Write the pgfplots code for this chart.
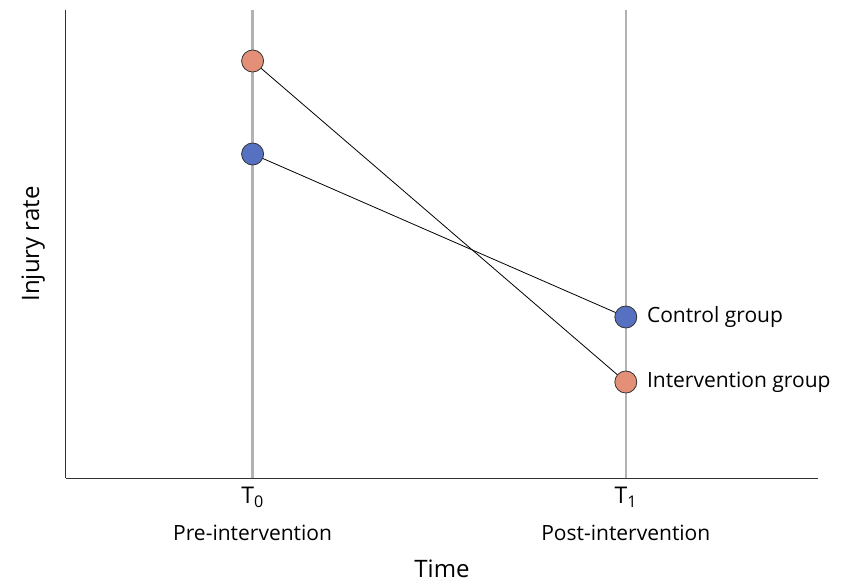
\documentclass[border=0pt]{standalone}
\usepackage{pgfplots}
\pgfplotsset{compat=1.18}
\usepackage{fontspec}
\setmainfont{Open Sans}
\definecolor{orng}{HTML}{E48F78}
\definecolor{blu}{HTML}{5671C2}
\begin{document}
\fontsize{21}{25}\selectfont
\begin{tikzpicture}
\begin{axis}[at={(0,0)},anchor=south west,scale only axis,width=752pt,height=468pt,
 xmin=0,xmax=4.03,ymin=0,ymax=468,axis x line=bottom,axis y line=left,
 axis line style={-,line width=1pt,black!80},
 xtick={1,3},xticklabels={{\fontsize{23}{25}\selectfont T\textsubscript{0}}\\[12pt]Pre-intervention,{\fontsize{23}{25}\selectfont T\textsubscript{1}}\\[12pt]Post-intervention},
 xticklabel style={align=center,font=\fontsize{21}{25}\selectfont,yshift=-2pt},
 ytick=\empty,major tick length=0pt,
 xlabel={Time},ylabel={Injury rate},
 label style={font=\fontsize{24}{28}\selectfont},
 xlabel style={yshift=-5pt},ylabel style={yshift=14pt},
 clip=false]
\addplot[gray!60,line width=2.4pt] coordinates {(1,0)(1,468)};
\addplot[gray!60,line width=2.4pt] coordinates {(3,0)(3,468)};
\addplot[black,line width=0.8pt,mark=*,mark size=11pt,mark options={fill=orng,draw=black!80,line width=0.8pt}] coordinates {(1,417)(3,96)};
\addplot[black,line width=0.8pt,mark=*,mark size=11pt,mark options={fill=blu,draw=black!80,line width=0.8pt}] coordinates {(1,324)(3,161)};
\node[right,xshift=14pt] at (axis cs:3,161) {Control group};
\node[right,xshift=14pt] at (axis cs:3,96) {Intervention group};
\end{axis}
\pgfresetboundingbox
\path (-66pt,-109pt) rectangle (790pt,478pt);
\end{tikzpicture}
\end{document}
